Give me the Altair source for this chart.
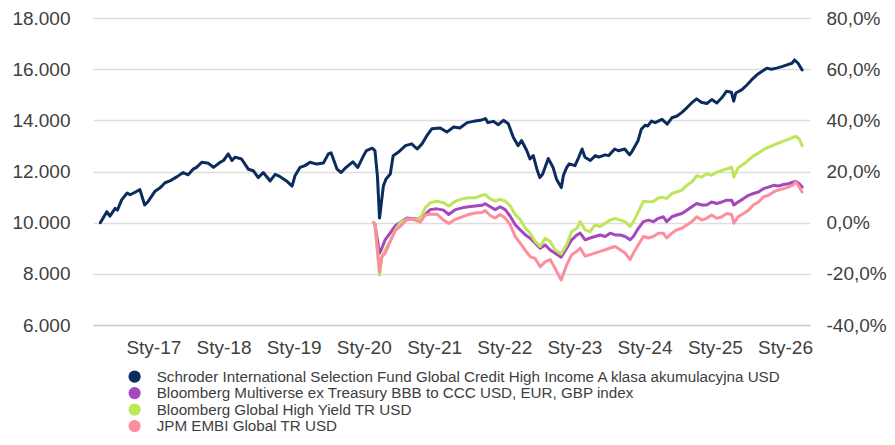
import altair as alt
import pandas as pd

FONT = "Liberation Sans"

SERIES = [
    "Schroder International Selection Fund Global Credit High Income A klasa akumulacyjna USD",
    "Bloomberg Multiverse ex Treasury BBB to CCC USD, EUR, GBP index",
    "Bloomberg Global High Yield TR USD",
    "JPM EMBI Global TR USD",
]
COLORS = ["#0b2c5e", "#a547bd", "#bde65a", "#fe8e9e"]

# Fund (index level, start = 10 000)
fund_dates = [
    "2016-03-31", "2016-05-04", "2016-05-20", "2016-06-16", "2016-06-28", "2016-07-20", "2016-08-18",
    "2016-09-02", "2016-09-28", "2016-10-23", "2016-11-17", "2016-12-05",
    "2017-01-10", "2017-02-05", "2017-03-03", "2017-03-28", "2017-05-05", "2017-06-05", "2017-07-01",
    "2017-07-27", "2017-08-14", "2017-09-10", "2017-10-15", "2017-11-10", "2017-12-15",
    "2018-01-01", "2018-01-26", "2018-02-14", "2018-03-02", "2018-04-05", "2018-05-10", "2018-06-05",
    "2018-07-01", "2018-07-27", "2018-09-01", "2018-09-27", "2018-10-15", "2018-11-25", "2018-12-24",
    "2019-01-08", "2019-02-03", "2019-03-01", "2019-03-28", "2019-05-01", "2019-06-05", "2019-07-01",
    "2019-07-15", "2019-08-15", "2019-09-05", "2019-09-25", "2019-11-05", "2019-12-01", "2019-12-31",
    "2020-01-15", "2020-02-14", "2020-02-28", "2020-03-12", "2020-03-23", "2020-04-12", "2020-04-25",
    "2020-05-18", "2020-06-02", "2020-06-28", "2020-08-05", "2020-09-06", "2020-10-05", "2020-10-30",
    "2020-11-25", "2020-12-20",
    "2021-02-02", "2021-03-08", "2021-04-13", "2021-05-15", "2021-06-22", "2021-07-25", "2021-08-30",
    "2021-09-25", "2021-10-08", "2021-11-05", "2021-12-01", "2021-12-28",
    "2022-01-22", "2022-02-17", "2022-03-14", "2022-04-01", "2022-04-28", "2022-05-15", "2022-06-01",
    "2022-06-20", "2022-07-05", "2022-07-20", "2022-08-18", "2022-09-12", "2022-09-30", "2022-10-25",
    "2022-11-05", "2022-11-22", "2022-12-05",
    "2023-01-04", "2023-01-20", "2023-02-10", "2023-02-25", "2023-03-25", "2023-04-20", "2023-05-08",
    "2023-06-10", "2023-06-28", "2023-07-30", "2023-08-18", "2023-09-20", "2023-10-15", "2023-10-30",
    "2023-11-28", "2023-12-15",
    "2024-01-04", "2024-01-18", "2024-02-06", "2024-02-25", "2024-04-01", "2024-04-28", "2024-05-22",
    "2024-06-18", "2024-07-12", "2024-08-08", "2024-09-02", "2024-09-28", "2024-10-22", "2024-11-20",
    "2024-12-16",
    "2025-01-11", "2025-02-06", "2025-03-03", "2025-03-28", "2025-04-09", "2025-04-20", "2025-05-22",
    "2025-06-18", "2025-07-12", "2025-08-08", "2025-09-02", "2025-09-28", "2025-10-22", "2025-11-18",
    "2025-12-16",
    "2026-01-11", "2026-02-06", "2026-02-20", "2026-03-10", "2026-03-31",
]
fund_values = [
    10000, 10430, 10250, 10560, 10490, 10890, 11160, 11090, 11190, 11290, 10690, 10830,
    11230, 11360, 11560, 11630, 11800, 11960, 11870, 12090, 12160, 12360, 12320, 12160, 12360,
    12430, 12690, 12430, 12560, 12490, 12090, 12030, 11760, 11960, 11630, 11890, 11830, 11630, 11430,
    11830, 12160, 12230, 12360, 12290, 12330, 12690, 12730, 12090, 11960, 12120, 12380, 12160, 12620,
    12820, 12910, 12820, 11830, 10180, 11430, 11700, 11900, 12620, 12750, 13010, 13080, 12880, 13080,
    13410, 13670,
    13700, 13540, 13740, 13700, 13910, 13960, 14000, 14070, 13910, 13960, 13830, 14000,
    13870, 13340, 13010, 13210, 12820, 12490, 12620, 12090, 11760, 11900, 12510, 12160, 11700, 11370,
    11850, 12160, 12300,
    12230, 12490, 12880, 12560, 12430, 12620, 12560, 12650, 12620, 12880, 12810, 12880, 12650, 12810,
    13200, 13650,
    13810, 13780, 13970, 13910, 14040, 13850, 14100, 14170, 14300, 14490, 14680, 14840, 14710, 14660,
    14810,
    14680, 14880, 15140, 15100, 14750, 15070, 15200, 15390, 15590, 15780, 15910, 16040, 16000, 16040,
    16100,
    16170, 16230, 16360, 16230, 15970,
]

# Benchmarks (shared dates, start = 10 000)
idx_dates = [
    "2020-02-21", "2020-02-28", "2020-03-23", "2020-04-04", "2020-04-21", "2020-05-17", "2020-06-13",
    "2020-07-09", "2020-08-13", "2020-09-16", "2020-10-21", "2020-11-16", "2020-12-12",
    "2021-01-16", "2021-02-19", "2021-03-18", "2021-04-22", "2021-05-27", "2021-06-29", "2021-08-03",
    "2021-09-07", "2021-09-24", "2021-10-20", "2021-11-15", "2021-12-11",
    "2022-01-06", "2022-02-01", "2022-02-27", "2022-03-25", "2022-04-20", "2022-05-16", "2022-06-11",
    "2022-07-07", "2022-08-02", "2022-08-28", "2022-09-23", "2022-10-24", "2022-11-22", "2022-12-18",
    "2023-01-14", "2023-01-31", "2023-02-26", "2023-03-24", "2023-04-18", "2023-05-15", "2023-06-10",
    "2023-07-06", "2023-08-01", "2023-08-27", "2023-09-22", "2023-10-18", "2023-11-04", "2023-11-30",
    "2023-12-26",
    "2024-01-21", "2024-02-16", "2024-03-13", "2024-04-08", "2024-04-25", "2024-05-22", "2024-06-17",
    "2024-07-13", "2024-08-08", "2024-09-03", "2024-09-29", "2024-10-25", "2024-11-19", "2024-12-15",
    "2025-01-11", "2025-02-07", "2025-03-04", "2025-03-29", "2025-04-10", "2025-05-02", "2025-05-30",
    "2025-06-25", "2025-07-20", "2025-08-16", "2025-09-11", "2025-10-07", "2025-11-02", "2025-11-27",
    "2025-12-24",
    "2026-01-19", "2026-02-14", "2026-02-27", "2026-03-16", "2026-03-31",
]
multiverse_values = [
    10000, 9950, 8800, 9000, 9330, 9590, 9880, 10010, 10180, 10140, 10180, 10320, 10510,
    10540, 10490, 10320, 10510, 10580, 10620, 10650, 10680, 10740, 10620, 10510, 10620,
    10510, 10250, 9920, 9720, 9530, 9390, 9200, 9000, 9130, 8930, 8800, 8650, 9000, 9330,
    9520, 9590, 9330, 9400, 9460, 9520, 9460, 9590, 9520, 9520, 9460, 9330, 9460, 9780, 10040,
    10100, 10040, 10170, 10230, 10040, 10230, 10300, 10360, 10490, 10620, 10750, 10690, 10690, 10810,
    10750, 10810, 10880, 10880, 10690, 10810, 10940, 11070, 11140, 11200, 11330, 11390, 11460, 11430, 11490,
    11520, 11590, 11610, 11520, 11390,
]
high_yield_values = [
    10000, 9950, 7950, 8670, 8930, 9260, 9720, 9990, 10140, 10120, 10180, 10580, 10780,
    10840, 10780, 10650, 10840, 10930, 10970, 10970, 11070, 11100, 10930, 10840, 10910,
    10840, 10650, 10320, 10120, 9790, 9590, 9260, 9070, 9390, 9260, 8930, 8780, 9150, 9650,
    9780, 10040, 9720, 9650, 9910, 9850, 9980, 10100, 10170, 10100, 10040, 9850, 10040, 10430, 10830,
    10820, 10830, 10960, 10990, 10940, 11140, 11200, 11270, 11460, 11590, 11840, 11780, 11910, 11850,
    11975, 12040, 12100, 12170, 11780, 12150, 12280, 12450, 12600, 12720, 12850, 12950, 13030, 13110, 13190,
    13260, 13340, 13370, 13270, 13010,
]
embi_values = [
    10000, 9920, 8080, 8670, 8800, 9260, 9700, 9860, 10130, 10120, 10020, 10300, 10340,
    10330, 10100, 9970, 10130, 10230, 10320, 10380, 10400, 10470, 10280, 10180, 10320,
    10180, 9920, 9460, 9200, 8930, 8670, 8600, 8280, 8470, 8560, 8210, 7760, 8350, 8750,
    8880, 9010, 8690, 8750, 8810, 8880, 8940, 9010, 9070, 8940, 8810, 8560, 8810, 9140, 9460,
    9400, 9460, 9590, 9590, 9400, 9590, 9720, 9780, 9910, 10040, 10230, 10100, 10170, 10300,
    10170, 10230, 10360, 10320, 9980, 10230, 10360, 10490, 10690, 10810, 11010, 11070, 11200, 11270, 11330,
    11390, 11490, 11590, 11390, 11200,
]

left_ticks = [6000, 8000, 10000, 12000, 14000, 16000, 18000]
right_ticks = [-0.4, -0.2, 0.0, 0.2, 0.4, 0.6, 0.8]
year_ticks = list(range(2017, 2027))

frames = [pd.DataFrame({"date": fund_dates, "value": fund_values, "series": SERIES[0]})]
for name, vals in zip(SERIES[1:], [multiverse_values, high_yield_values, embi_values]):
    frames.append(pd.DataFrame({"date": idx_dates, "value": vals, "series": name}))

LABEL_COLOR = "#404040"

x_enc = alt.X(
    "date:T",
    scale=alt.Scale(domain=[alt.DateTime(year=2016, month=2, date=22),
                            alt.DateTime(year=2026, month=5, date=11)]),
    axis=alt.Axis(
        values=[alt.DateTime(year=y, month=1, date=1) for y in year_ticks],
        labelExpr="'Sty-' + timeFormat(datum.value, '%y')",
        grid=False, ticks=False, domain=True, domainColor="#cfcfcf", domainWidth=1.5,
        title=None, labelFontSize=19, labelColor=LABEL_COLOR, labelFont=FONT,
        labelPadding=13, labelFlush=False, labelOverlap=False,
    ),
)
y_enc = alt.Y(
    "value:Q",
    scale=alt.Scale(domain=[6000, 18000], nice=False),
    axis=alt.Axis(
        values=left_ticks,
        labelExpr="replace(format(datum.value, ','), ',', '.')",
        grid=True, gridColor="#dedede", gridWidth=1.5, ticks=False, domain=False,
        title=None, labelFontSize=19, labelColor=LABEL_COLOR, labelFont=FONT, labelPadding=23,
    ),
)
color_enc = alt.Color(
    "series:N",
    scale=alt.Scale(domain=SERIES, range=COLORS),
    sort=SERIES,
    legend=alt.Legend(
        title=None, orient="none", legendX=34, legendY=351, direction="vertical",
        symbolType="circle", symbolSize=150, symbolStrokeWidth=0, symbolOpacity=1,
        labelFontSize=15.2, labelColor=LABEL_COLOR, labelFont=FONT, labelLimit=900,
        rowPadding=0.5, labelOffset=14.5, padding=0,
    ),
)

# legend carrier: filled points placed before the x domain, clipped away
legend_df = pd.DataFrame({"date": ["2010-01-01"] * 4, "value": [10000] * 4, "series": SERIES})
legend_layer = alt.Chart(legend_df).mark_point(filled=True, clip=True, opacity=1).encode(
    x=x_enc, y=y_enc, color=color_enc
)

line_layers = []
for f in frames:
    line_layers.append(
        alt.Chart(f).mark_line(strokeWidth=3, strokeJoin="round", strokeCap="round")
        .encode(x=x_enc, y=y_enc, color=color_enc)
    )

left_part = alt.layer(legend_layer, *line_layers)

pct_df = pd.DataFrame({"pct": [right_ticks[0], right_ticks[-1]]})
right = alt.Chart(pct_df).mark_point(opacity=0).encode(
    y=alt.Y(
        "pct:Q",
        scale=alt.Scale(domain=[right_ticks[0], right_ticks[-1]], nice=False),
        axis=alt.Axis(
            orient="right", values=right_ticks,
            labelExpr="replace(replace(format(datum.value * 100, '.1f'), '.', ','), '\u2212', '-') + '%'",
            grid=False, ticks=False, domain=False, title=None,
            labelFontSize=19, labelColor=LABEL_COLOR, labelFont=FONT, labelPadding=16,
        ),
    )
)

chart = (
    alt.layer(left_part, right)
    .resolve_scale(y="independent")
    .properties(
        width=717, height=307, autosize=alt.AutoSizeParams(type="none"),
        padding={"left": 85, "top": 10, "right": 77, "bottom": 110},
        background="white",
    )
    .configure_view(stroke=None)
)

chart.save("out.html", embed_options={"renderer": "svg", "actions": False})
